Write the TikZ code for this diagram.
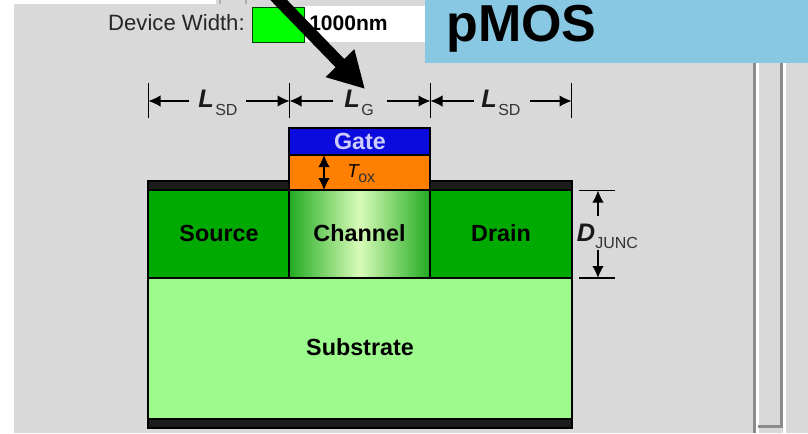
\documentclass[tikz,border=0pt]{standalone}
\usepackage{fontspec}
\setmainfont{Liberation Sans}
\usetikzlibrary{arrows.meta}
\definecolor{bg}{HTML}{D9D9D9}
\definecolor{banner}{HTML}{89C8E2}
\definecolor{sd}{HTML}{00AA00}
\definecolor{sub}{HTML}{9DFB8D}
\definecolor{gatec}{HTML}{0B0BDD}
\definecolor{oxide}{HTML}{FF8000}
\definecolor{metal}{HTML}{1C1C1C}
\definecolor{chanlo}{HTML}{22AA22}
\definecolor{chanhi}{HTML}{D8FCB8}
\definecolor{sbar}{HTML}{8C8C8C}
\tikzset{
 x=0.75pt,y=-0.75pt,
 region/.style={draw=black,line width=0.8pt,inner sep=0pt,outer sep=0pt},
 lbl/.style={font=\fontsize{17.5}{19}\selectfont\bfseries,inner sep=0pt},
 dim/.style={line width=0.8pt,-{Latex[length=9pt,width=8.5pt]}},
 sym/.style={font=\fontsize{19}{20}\selectfont\bfseries\itshape,inner sep=0pt,text=black!90},
 subs/.style={font=\fontsize{12}{13}\selectfont,inner sep=0pt,text=black!80},
}
\begin{document}
\begin{tikzpicture}
\useasboundingbox (0,0) rectangle (808,433);
\clip (0,0) rectangle (808,433);
\fill[white] (0,0) rectangle (808,433);
\fill[bg] (14,4) rectangle (808,433);
\fill[bg] (216,0) rectangle (808,4);
\fill[sbar!70] (219,0) rectangle (221,4);
\fill[sbar!70] (245,0) rectangle (247,4);
% white field and colour swatch
\node[fill=white,inner sep=0pt,minimum width=125pt*0.75,minimum height=36pt*0.75,anchor=north west] (field) at (304,6) {};
\node[font=\fontsize{16.6}{18}\selectfont,text=black!85,anchor=base east,inner sep=0pt] (dw) at (245,30) {Device Width:};
\node[draw=black!75!green,line width=0.8pt,fill=green,inner sep=0pt,minimum width=52pt*0.75,minimum height=35pt*0.75,anchor=north west] (swatch) at (252,7) {};
\node[font=\fontsize{15.8}{17}\selectfont\bfseries,anchor=base west,inner sep=0pt] (nm) at (309,30) {1000nm};
% scrollbar
\fill[sbar] (753,0) rectangle (756,433);
\fill[white] (756,0) rectangle (759,433);
\fill[sbar] (780,0) rectangle (783,428);
\fill[white] (783,0) rectangle (786,433);
\fill[sbar] (758,425) rectangle (783,428);
% device
\node[region,fill=metal,minimum width=424pt*0.75,minimum height=10pt*0.75,anchor=north west] (top) at (148,181) {};
\node[region,fill=metal,minimum width=424pt*0.75,minimum height=10pt*0.75,anchor=north west] (bot) at (148,418) {};
\node[region,fill=sub,minimum width=424pt*0.75,minimum height=141pt*0.75,anchor=north west] (subst) at (148,278) {};
\node[lbl] (substl) at (360,347.5) {Substrate};
\node[region,fill=sd,minimum width=141pt*0.75,minimum height=88pt*0.75,anchor=north west] (src) at (148,190) {};
\node[lbl] (srcl) at (219,233) {Source};
\node[region,fill=sd,minimum width=142pt*0.75,minimum height=88pt*0.75,anchor=north west] (drn) at (430,190) {};
\node[lbl] (drnl) at (501,233) {Drain};
\node[region,left color=chanlo,right color=chanlo,middle color=chanhi,minimum width=141pt*0.75,minimum height=88pt*0.75,anchor=north west] (chan) at (289,190) {};
\node[lbl] (chanl) at (359.5,233) {Channel};
\node[region,fill=oxide,minimum width=141pt*0.75,minimum height=35pt*0.75,anchor=north west] (ox) at (289,155) {};
\node[region,fill=gatec,minimum width=141pt*0.75,minimum height=27pt*0.75,anchor=north west] (gate) at (289,128) {};
\node[lbl,text=white!80!blue] (gatel) at (360,141) {Gate};
% Tox
\coordinate (t1) at (324,155);
\coordinate (t2) at (324,190);
\coordinate (tm) at (324,172);
\draw[dim] (tm) -- (t1);
\draw[dim] (tm) -- (t2);
\node[font=\fontsize{14}{15}\selectfont\itshape,inner sep=0pt,anchor=base] (tt) at (353,177) {T};
\node[subs,anchor=base west] (ttx) at (358,182) {ox};
% horizontal dimensions
\foreach \n/\x in {a/148.5,b/289.5,c/430.5,d/571.5}{
 \coordinate (\n1) at (\x,83);
 \coordinate (\n2) at (\x,118);
 \coordinate (\n) at (\x,101);
 \draw[line width=0.8pt] (\n1) -- (\n2);
}
\coordinate (a3) at (189,101);\coordinate (a4) at (246,101);
\coordinate (b3) at (333,101);\coordinate (b4) at (387,101);
\coordinate (c3) at (474,101);\coordinate (c4) at (530,101);
\draw[dim] (a3) -- (a); \draw[dim] (a4) -- (b);
\draw[dim] (b3) -- (b); \draw[dim] (b4) -- (c);
\draw[dim] (c3) -- (c); \draw[dim] (c4) -- (d);
\node[sym,anchor=base] (l1) at (206,107) {L};
\node[subs,anchor=base west] (s1) at (215,115) {SD};
\node[sym,anchor=base] (l2) at (352,107) {L};
\node[subs,anchor=base west] (s2) at (361,115) {G};
\node[sym,anchor=base] (l3) at (489,107) {L};
\node[subs,anchor=base west] (s3) at (498,115) {SD};
% D JUNC
\coordinate (e1) at (579,190.5);\coordinate (e2) at (615,190.5);
\coordinate (f1) at (579,278);\coordinate (f2) at (615,278);
\coordinate (e) at (598,190.5);\coordinate (f) at (598,278);
\coordinate (e3) at (598,216);\coordinate (f3) at (598,250);
\draw[line width=0.8pt] (e1) -- (e2);
\draw[line width=0.8pt] (f1) -- (f2);
\draw[dim] (e3) -- (e);
\draw[dim] (f3) -- (f);
\node[sym,anchor=base] (dj) at (586,241) {D};
\node[subs,anchor=base west] (sj) at (595,248) {JUNC};
% banner
\node[fill=banner,inner sep=0pt,minimum width=383pt*0.75,minimum height=63pt*0.75,anchor=north west] (ban) at (425,0) {};
\node[font=\fontsize{39}{41}\selectfont\bfseries,anchor=base west,inner sep=0pt] (pm) at (446,41) {pMOS};
% big arrow
\coordinate (as) at (269,-10);
\coordinate (ae) at (365,89);
\draw[line width=9pt,-{Triangle[length=27pt,width=28pt]}] (as) -- (ae);
\end{tikzpicture}
\end{document}
